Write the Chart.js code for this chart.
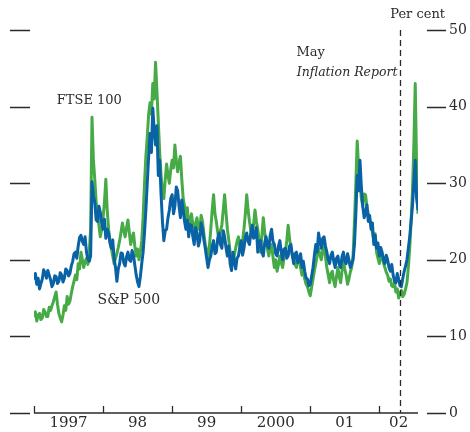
<!DOCTYPE html>
<html>
<head>
<meta charset="utf-8">
<script src="https://cdn.jsdelivr.net/npm/chart.js@4.4.0/dist/chart.umd.min.js"></script>
<style>
html,body{margin:0;padding:0;background:#fff;}
#wrap{width:470px;height:432px;position:relative;}
</style>
</head>
<body>
<div id="wrap"><canvas id="c" width="470" height="432"></canvas></div>
<script>
// ---- data ----
const START_YEAR = 1997.0;
const STEP = 0.02;            // years between observations
const X_MAX = 2002.56;
const yearTicks = [1997, 1998, 1999, 2000, 2001, 2002];
const yearLabels = ['1997', '98', '99', '2000', '01', '02'];
const yTicks = [0, 10, 20, 30, 40, 50];
const inflationReportDate = 2002.30;

const sp500 = [
  17.4, 18.2, 16.8, 17.6, 16.2, 16.9, 17.5, 18.7, 18.3, 17.6,
  18.6, 18.0, 17.4, 16.5, 16.9, 17.9, 17.8, 16.9, 17.2, 18.3,
  18.0, 17.1, 17.6, 18.8, 18.6, 17.9, 18.2, 19.2, 19.8, 20.8,
  21.0, 20.2, 21.8, 22.9, 23.2, 22.4, 22.0, 23.0, 21.0, 20.1,
  19.8, 20.5, 30.2, 28.4, 27.5, 25.2, 25.0, 27.0, 26.2, 24.8,
  24.0, 25.3, 22.8, 24.0, 23.5, 22.2, 21.5, 22.6, 20.2, 19.0,
  17.2, 18.8, 19.5, 20.9, 20.8, 19.6, 19.2, 20.4, 21.0, 20.0,
  19.8, 21.2, 20.6, 19.3, 18.0, 17.1, 16.5, 17.8, 19.5, 21.0,
  23.5, 26.5, 30.0, 33.5, 36.5, 34.0, 39.8, 37.0, 35.0, 37.5,
  31.0, 33.0, 28.5, 25.0, 22.5, 23.8, 24.0, 25.5, 26.5, 28.0,
  28.5, 26.0, 27.0, 29.5, 29.0, 27.0, 25.5, 27.8, 26.5, 25.0,
  24.0, 25.2, 23.0, 24.6, 24.5, 23.0, 22.0, 24.2, 23.5, 21.8,
  22.5, 24.8, 24.0, 22.6, 21.5, 20.2, 19.0, 20.0, 20.5, 21.8,
  22.5, 20.8, 21.0, 22.8, 23.5, 22.0, 21.5, 23.8, 23.0, 21.6,
  20.5, 21.8, 19.5, 18.6, 21.0, 19.8, 18.8, 20.2, 20.5, 21.6,
  22.5, 20.6, 21.5, 23.0, 23.5, 22.4, 22.0, 23.6, 24.5, 22.8,
  23.0, 24.2, 21.0, 22.4, 22.5, 21.0, 20.5, 22.2, 23.0, 21.8,
  21.5, 23.2, 24.0, 22.4, 22.0, 20.8, 20.5, 21.8, 22.5, 21.0,
  20.0, 21.4, 21.5, 20.2, 20.5, 21.8, 22.0, 20.6, 19.5, 20.8,
  21.0, 19.6, 20.0, 20.8, 19.0, 19.8, 18.5, 17.6, 17.5, 16.6,
  16.8, 17.9, 19.0, 20.6, 22.0, 21.0, 23.5, 22.4, 21.5, 22.8,
  23.0, 21.8, 21.0, 20.0, 19.5, 20.6, 21.0, 19.8, 19.0, 20.2,
  20.5, 19.4, 19.0, 20.4, 21.0, 19.8, 19.5, 20.8, 20.0, 19.0,
  19.5, 20.0, 22.0, 26.0, 31.0, 29.0, 33.0, 29.5, 27.0, 25.5,
  26.0, 27.2, 25.0, 25.8, 24.0, 24.8, 22.0, 23.2, 21.5, 22.2,
  20.5, 21.6, 21.0, 20.0, 19.5, 20.6, 20.0, 19.0, 18.5, 19.4,
  18.0, 17.2, 17.0, 18.2, 17.5, 16.6, 16.5, 17.6, 18.5, 19.2,
  20.0, 21.5, 23.0, 25.0, 27.0, 30.0, 33.0, 28.0, 26.5
];

const ftse100 = [
  12.5, 13.2, 12.0, 12.8, 13.0, 12.2, 12.4, 13.5, 13.2, 12.6,
  12.6, 13.8, 13.4, 14.0, 14.5, 15.2, 15.8, 14.2, 13.0, 12.4,
  11.9, 12.8, 14.0, 13.4, 15.2, 14.2, 14.6, 15.6, 16.5, 17.2,
  18.0, 17.4, 19.5, 18.8, 21.0, 20.0, 19.0, 19.8, 20.2, 19.4,
  21.0, 24.0, 38.6, 33.0, 30.5, 27.5, 26.0, 24.5, 23.0, 24.0,
  25.5, 27.5, 30.5, 26.5, 24.0, 22.5, 21.5, 20.5, 19.5, 20.2,
  20.8, 21.6, 22.5, 23.6, 24.8, 23.8, 23.0, 24.2, 25.2, 23.6,
  22.0, 22.8, 23.5, 21.8, 20.5, 21.4, 20.0, 21.0, 22.5, 25.5,
  30.0, 33.5, 36.0, 39.0, 40.5, 39.0, 43.0, 41.0, 45.8, 42.0,
  38.0, 34.0, 31.0, 29.0, 28.0, 30.5, 32.5, 31.0, 30.0, 31.8,
  33.0, 32.0, 35.0, 33.0, 31.5, 32.8, 33.5, 30.5, 28.0, 27.0,
  25.5, 26.8, 24.0, 25.2, 26.0, 24.6, 23.5, 24.8, 25.5, 24.0,
  24.0, 25.8, 25.0, 23.4, 22.0, 21.2, 20.0, 21.8, 24.0, 26.5,
  28.5, 26.0, 25.0, 23.6, 22.5, 23.8, 24.5, 26.5, 28.5, 26.2,
  24.0, 22.6, 21.0, 20.2, 19.5, 20.6, 21.5, 22.4, 23.0, 21.8,
  21.0, 22.4, 24.0, 26.0, 28.5, 26.5, 25.0, 23.8, 23.0, 24.6,
  26.5, 25.0, 24.0, 22.5, 21.0, 23.2, 25.5, 23.6, 22.5, 21.4,
  20.5, 21.6, 22.0, 20.4, 19.0, 20.0, 18.5, 19.4, 20.5, 19.6,
  19.0, 20.2, 21.0, 22.5, 24.5, 22.8, 21.5, 20.6, 20.0, 19.4,
  19.0, 20.2, 20.5, 19.0, 18.0, 18.8, 17.5, 16.8, 16.5, 15.8,
  15.3, 16.4, 17.5, 18.6, 19.5, 20.6, 21.5, 20.6, 20.0, 21.2,
  22.0, 20.4, 19.0, 18.0, 17.0, 18.2, 18.5, 17.2, 16.5, 17.8,
  19.0, 17.8, 17.0, 18.6, 20.0, 18.8, 18.0, 16.8, 17.5, 18.4,
  19.0, 20.5, 25.0, 30.0, 35.5, 32.0, 30.0, 28.0, 27.0, 28.6,
  28.5, 27.0, 26.0, 25.2, 24.5, 23.6, 22.5, 23.4, 21.0, 20.2,
  19.5, 20.4, 20.5, 19.6, 19.0, 18.4, 18.0, 17.2, 17.5, 16.6,
  16.5, 17.0, 15.8, 16.2, 15.0, 15.6, 16.0, 15.2, 15.5, 16.2,
  17.0, 19.0, 21.5, 25.0, 29.0, 35.0, 43.0, 32.0, 26.0
];

// ---- build ----
const toPoints = arr => arr.map((v, i) => ({ x: START_YEAR + i * STEP, y: v }));
const yearMids = yearTicks.map((y, i) => i < yearTicks.length - 1 ? y + 0.5 : (y + X_MAX) / 2);

const FONT = "'DejaVu Serif', 'Liberation Serif', serif";
const INK = '#2b2b2b';

const decor = {
  id: 'decor',
  afterDatasetsDraw(chart) {
    const { ctx, chartArea: a, scales: { x, y } } = chart;
    ctx.save();
    ctx.strokeStyle = INK;
    ctx.lineWidth = 1.3;
    ctx.beginPath();
    ctx.moveTo(a.left, a.bottom); ctx.lineTo(a.right, a.bottom);
    yearTicks.forEach(t => {
      const px = Math.round(x.getPixelForValue(t)) + 0.5;
      ctx.moveTo(px, a.bottom); ctx.lineTo(px, a.bottom - 7);
    });
    yTicks.forEach(v => {
      const py = Math.round(y.getPixelForValue(v)) + 0.5;
      ctx.moveTo(a.left - 24, py); ctx.lineTo(a.left - 4, py);
      ctx.moveTo(a.right + 9, py); ctx.lineTo(a.right + 28, py);
    });
    ctx.stroke();
    const dx = Math.round(x.getPixelForValue(inflationReportDate)) + 0.5;
    ctx.setLineDash([6, 4]);
    ctx.beginPath();
    ctx.moveTo(dx, a.top); ctx.lineTo(dx, a.bottom);
    ctx.stroke();
    ctx.setLineDash([]);
    ctx.fillStyle = INK;
    ctx.textBaseline = 'middle';
    ctx.textAlign = 'left';
    ctx.font = "13px " + FONT;
    ctx.fillText('FTSE 100', x.getPixelForValue(1997.33), y.getPixelForValue(40.8));
    ctx.font = "14px " + FONT;
    ctx.fillText('S&P 500', x.getPixelForValue(1997.92), y.getPixelForValue(14.7));
    ctx.font = "13px " + FONT;
    ctx.fillText('May', dx - 104, y.getPixelForValue(47.1));
    ctx.textAlign = 'right';
    ctx.font = "italic 12.5px " + FONT;
    ctx.fillText('Inflation Report', dx - 3, y.getPixelForValue(44.4));
    ctx.font = "13px " + FONT;
    ctx.fillText('Per cent', a.right + 27, 15);
    ctx.restore();
  }
};

new Chart(document.getElementById('c'), {
  type: 'line',
  data: {
    datasets: [
      { label: 'S&P 500', data: toPoints(sp500), borderColor: '#0a62a6', borderWidth: 3,
        pointRadius: 0, tension: 0, borderJoinStyle: 'round', fill: false },
      { label: 'FTSE 100', data: toPoints(ftse100), borderColor: '#46ab46', borderWidth: 3,
        pointRadius: 0, tension: 0, borderJoinStyle: 'round', fill: false }
    ]
  },
  options: {
    responsive: false,
    animation: false,
    devicePixelRatio: 1,
    layout: { padding: { left: 34, top: 30, right: 0, bottom: 0 } },
    plugins: { legend: { display: false }, tooltip: { enabled: false } },
    scales: {
      x: {
        type: 'linear', min: START_YEAR, max: X_MAX,
        border: { display: false },
        grid: { display: false, drawTicks: false },
        afterBuildTicks: s => { s.ticks = yearMids.map(v => ({ value: v })); },
        afterFit: s => { s.height = 19; },
        ticks: {
          autoSkip: false, maxRotation: 0, padding: 1, color: INK,
          font: { family: FONT, size: 15 },
          callback: (v, i) => yearLabels[i]
        }
      },
      y: {
        type: 'linear', position: 'right', min: 0, max: 50,
        border: { display: false },
        grid: { display: true, drawOnChartArea: false, drawTicks: true, tickLength: 28, color: 'rgba(0,0,0,0)', tickColor: 'rgba(0,0,0,0)' },
        afterBuildTicks: s => { s.ticks = yTicks.map(v => ({ value: v })); },
        afterFit: s => { s.width = 52; },
        ticks: { padding: 3, color: INK, font: { family: FONT, size: 14 } }
      }
    }
  },
  plugins: [decor]
});
</script>
</body>
</html>
